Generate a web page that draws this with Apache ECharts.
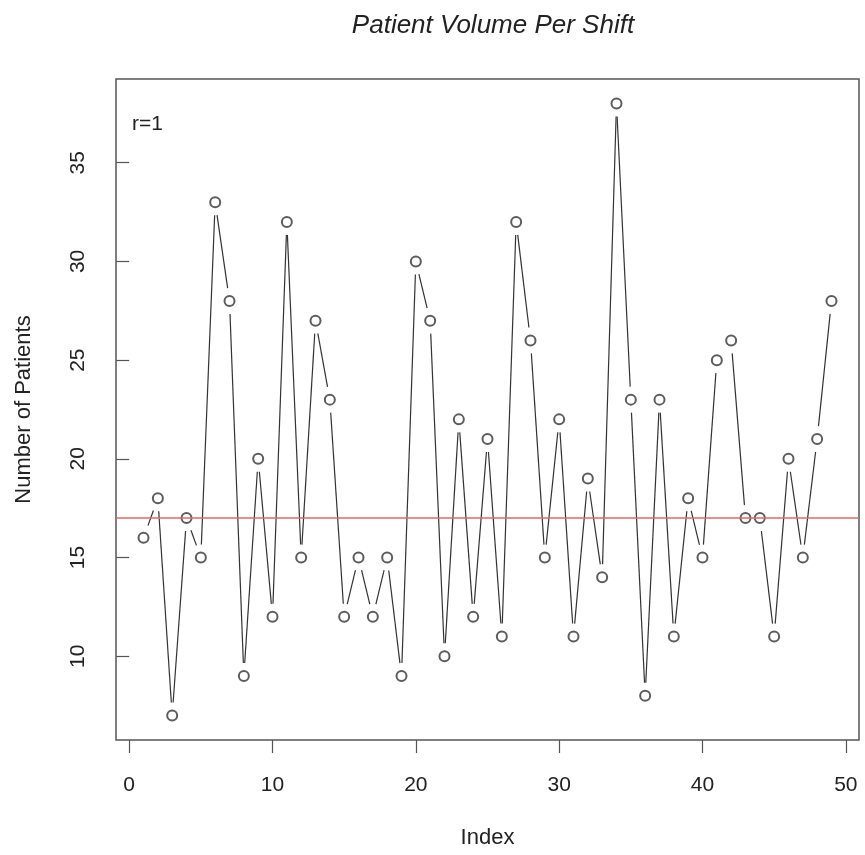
<!DOCTYPE html>
<html>
<head>
<meta charset="utf-8">
<title>Patient Volume Per Shift</title>
<script src="https://cdn.jsdelivr.net/npm/echarts@6/dist/echarts.min.js"></script>
<style>
  html, body { margin: 0; padding: 0; background: #fff; }
  #main { width: 865px; height: 855px; }
</style>
</head>
<body>
<div id="main"></div>
<script>
// shift index and patient counts
var shiftIndex = [1, 2, 3, 4, 5, 6, 7, 8, 9, 10, 11, 12, 13, 14, 15, 16, 17, 18, 19, 20,
  21, 22, 23, 24, 25, 26, 27, 28, 29, 30, 31, 32, 33, 34, 35, 36, 37, 38, 39, 40,
  41, 42, 43, 44, 45, 46, 47, 48, 49];
var patients = [16, 18, 7, 17, 15, 33, 28, 9, 20, 12, 32, 15, 27, 23, 12, 15, 12, 15, 9, 30,
  27, 10, 22, 12, 21, 11, 32, 26, 15, 22, 11, 19, 14, 38, 23, 8, 23, 11, 18, 15,
  25, 26, 17, 17, 11, 20, 15, 21, 28];
var refLine = 17;
var xTicks = [0, 10, 20, 30, 40, 50];
var yTicks = [10, 15, 20, 25, 30, 35];

var FONT = "'Liberation Sans', Arial, sans-serif";
var GAP = 13; // R type="b" gap around points, px

var points = shiftIndex.map(function (x, i) { return [x, patients[i]]; });
var segments = [];
for (var i = 0; i < shiftIndex.length - 1; i++) {
  segments.push([shiftIndex[i], patients[i], shiftIndex[i + 1], patients[i + 1]]);
}

var chart = echarts.init(document.getElementById("main"));

chart.setOption({
  backgroundColor: "#fff",
  animation: false,
  title: {
    text: "Patient Volume Per Shift",
    left: 488,
    top: 8,
    textAlign: "center",
    textStyle: {
      fontFamily: FONT,
      fontSize: 26,
      fontStyle: "italic",
      fontWeight: "normal",
      color: "#222"
    }
  },
  graphic: [{
    type: "text",
    left: 132,
    top: 114,
    style: { text: "r=1", font: "21px " + FONT, fill: "#222" }
  }],
  grid: {
    left: 116,
    top: 79,
    width: 743,
    height: 661,
    show: true,
    borderColor: "#555",
    borderWidth: 1.5
  },
  xAxis: {
    type: "value",
    min: -0.92,
    max: 50.92,
    name: "Index",
    nameLocation: "middle",
    nameGap: 87,
    nameTextStyle: { fontFamily: FONT, fontSize: 22, color: "#222" },
    axisLine: { show: false },
    axisTick: { show: true, length: 13, customValues: xTicks, lineStyle: { color: "#555", width: 1.2 } },
    axisLabel: { customValues: xTicks, margin: 35, fontFamily: FONT, fontSize: 21, color: "#222" },
    splitLine: { show: false }
  },
  yAxis: {
    type: "value",
    min: 5.76,
    max: 39.24,
    name: "Number of Patients",
    nameLocation: "middle",
    nameRotate: 90,
    nameGap: 81,
    nameTextStyle: { fontFamily: FONT, fontSize: 22, color: "#222" },
    axisLine: { show: false },
    axisTick: { show: true, length: 13, customValues: yTicks, lineStyle: { color: "#555", width: 1.2 } },
    axisLabel: { customValues: yTicks, rotate: 90, margin: 27, fontFamily: FONT, fontSize: 21, color: "#222" },
    splitLine: { show: false }
  },
  series: [
    {
      // connecting lines, cut short near each point like R's type = "b"
      type: "custom",
      data: segments,
      encode: { x: [0, 2], y: [1, 3] },
      silent: true,
      z: 2,
      renderItem: function (params, api) {
        var p1 = api.coord([api.value(0), api.value(1)]);
        var p2 = api.coord([api.value(2), api.value(3)]);
        var dx = p2[0] - p1[0], dy = p2[1] - p1[1];
        var len = Math.sqrt(dx * dx + dy * dy);
        if (len <= 2 * GAP) return null;
        var ux = dx / len, uy = dy / len;
        return {
          type: "line",
          shape: {
            x1: p1[0] + ux * GAP, y1: p1[1] + uy * GAP,
            x2: p2[0] - ux * GAP, y2: p2[1] - uy * GAP
          },
          style: { stroke: "#333", lineWidth: 1.2 }
        };
      }
    },
    {
      type: "scatter",
      data: points,
      symbol: "emptyCircle",
      symbolSize: 10,
      z: 3,
      itemStyle: { color: "#333", borderColor: "#333", borderWidth: 1.2 }
    },
    {
      type: "line",
      data: [],
      z: 5,
      markLine: {
        silent: true,
        symbol: "none",
        label: { show: false },
        lineStyle: { color: "#e06868", width: 1.5, type: "solid" },
        data: [{ yAxis: refLine }]
      }
    }
  ]
});
</script>
</body>
</html>
